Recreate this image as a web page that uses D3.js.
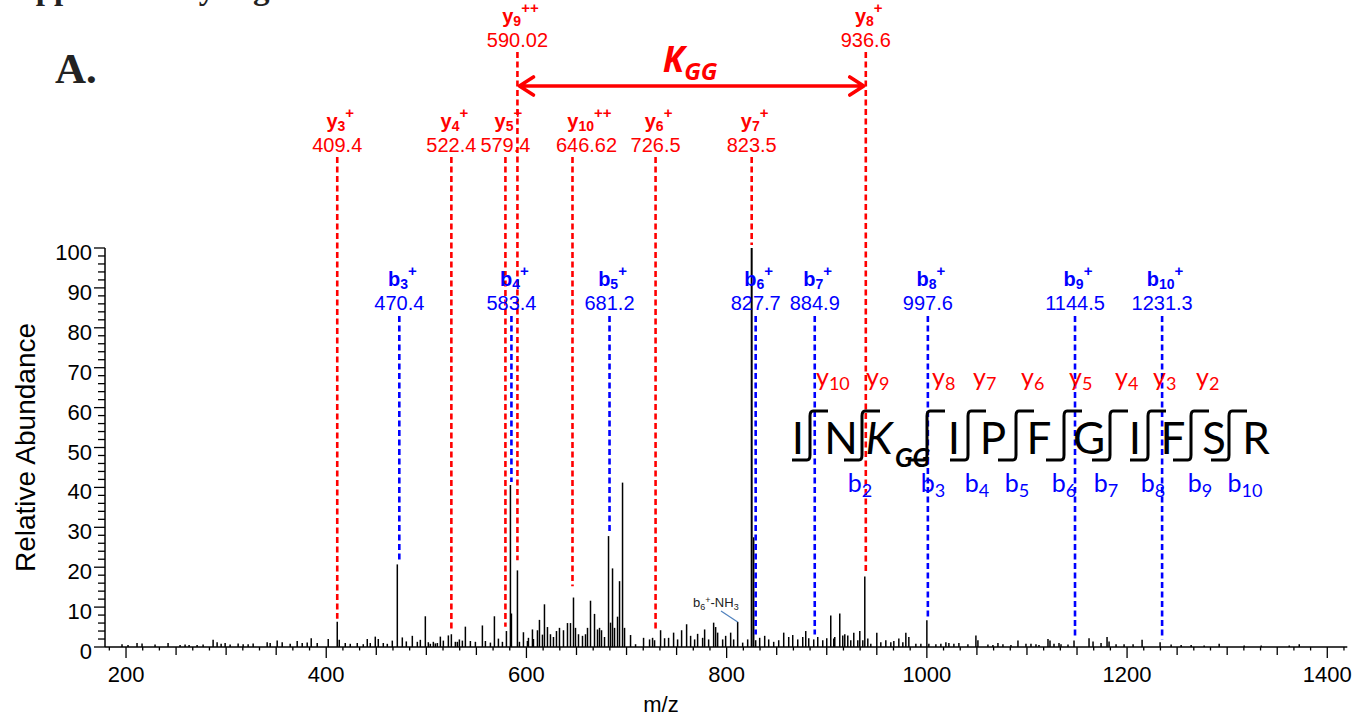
<!DOCTYPE html>
<html>
<head>
<meta charset="utf-8">
<script src="https://cdn.jsdelivr.net/npm/d3@7"></script>
<style>
  body { margin: 0; background: #fff; }
  svg text { font-family: "Liberation Sans", Arial, sans-serif; }
</style>
</head>
<body>
<svg id="chart" width="1361" height="719"></svg>
<script>
// ---- data: [m/z, relative abundance %] ----
const spectrum = [
  [196,0.7],[202,0.5],[211,1.0],[216,0.9],[229,0.6],[242,1.0],[254,0.5],[259,0.6],[263,0.5],[271,0.5],
  [277,0.6],[287,1.8],[291,1.2],[295,0.8],[299,1.0],[304,0.6],[312,0.9],[317,0.7],[322,0.7],[327,0.9],
  [341,1.2],[344,1.0],[351,1.6],[356,1.2],[364,0.8],[371,1.5],[376,1.0],[381,1.1],[385,2.2],[391,1.0],
  [402,2.0],[411,6.3],[413,1.8],[419,1.0],[424,0.8],[431,1.0],[437,0.7],[441,2.0],[444,1.0],[449,2.6],
  [452,2.0],[457,1.0],[461,0.8],[466,1.6],[471,20.7],[476,2.4],[480,1.4],[486,2.8],[491,1.3],[494,1.8],
  [499,7.7],[502,1.2],[504,0.8],[507,1.3],[509,0.9],[511,1.0],[514,2.6],[517,1.6],[522,2.9],[525,3.2],
  [529,1.3],[531,1.3],[533,1.9],[536,1.6],[539,5.1],[544,1.5],[549,1.3],[556,5.4],[559,1.5],[564,1.1],
  [568,7.7],[572,2.1],[576,1.3],[580,4.0],[584,40.6],[585,8.4],[591,19.2],[593,1.3],[597,3.7],[601,1.5],
  [602,2.3],[606,4.4],[607,2.0],[611,4.2],[613,6.8],[616,3.1],[618,10.7],[621,5.0],[624,3.2],[627,2.5],
  [630,4.0],[633,4.8],[637,4.2],[641,6.0],[644,6.0],[647,12.4],[649,4.8],[652,3.2],[656,2.8],[659,3.2],
  [661,4.8],[664,11.6],[668,8.3],[671,4.4],[673,4.8],[675,4.2],[678,2.5],[682,27.8],[684,6.1],[686,19.7],
  [688,4.8],[691,7.6],[693,16.5],[696,41.2],[698,4.8],[704,3.0],[709,0.7],[717,2.3],[723,1.9],[726,2.3],
  [728,1.7],[734,4.2],[738,2.2],[742,2.3],[747,3.6],[751,1.9],[755,4.2],[760,5.7],[764,2.8],[768,1.9],
  [771,3.3],[776,2.3],[778,4.4],[782,1.9],[787,6.1],[789,5.0],[791,3.6],[796,1.9],[799,2.8],[804,3.6],
  [807,1.9],[811,6.3],[816,1.1],[821,1.9],[825,100],[827,27.5],[829,1.7],[833,2.3],[838,2.8],[842,1.9],
  [847,1.3],[852,1.7],[857,3.6],[862,2.5],[866,3.0],[871,1.9],[876,2.5],[879,4.0],[882,2.2],[887,1.9],
  [891,2.5],[896,1.7],[900,2.2],[904,7.9],[907,2.1],[908,2.5],[913,8.4],[916,2.9],[918,3.2],[921,2.9],
  [924,1.7],[927,3.6],[931,1.7],[933,4.0],[936,1.7],[938,17.7],[941,2.1],[944,0.8],[950,3.6],[954,1.2],
  [959,1.7],[964,1.2],[967,1.5],[972,2.1],[976,1.2],[979,3.6],[982,2.5],[989,0.8],[994,0.8],[1000,6.7],
  [1002,0.8],[1009,0.7],[1014,0.8],[1019,1.2],[1022,1.0],[1027,0.8],[1032,1.0],[1041,0.7],[1049,2.9],[1051,1.7],
  [1061,0.6],[1066,0.5],[1071,1.0],[1076,0.7],[1084,0.5],[1091,1.6],[1099,0.8],[1104,0.8],[1109,0.7],[1112,0.5],
  [1121,2.0],[1123,1.6],[1127,0.8],[1132,1.0],[1134,0.7],[1141,0.6],[1147,1.6],[1162,2.2],[1166,1.4],[1174,1.0],
  [1180,2.5],[1182,1.4],[1189,0.7],[1197,0.7],[1206,0.7],[1215,1.8],[1233,1.2],[1244,0.6],[1254,0.5],[1264,0.5],
  [1277,0.4],[1292,0.8],[1317,0.4],[1334,0.4],[1362,0.4],[1372,0.7]
];

// annotated fragment ions: label text, m/z of the marked peak, its height, label tier
const yIons = [
  { n: "3",  z: "+",  label: "409.4",  mz: 411, rel: 6.3,  tier: 1 },
  { n: "4",  z: "+",  label: "522.4",  mz: 525, rel: 3.0,  tier: 1 },
  { n: "5",  z: "+",  label: "579.4",  mz: 579, rel: 4.3,  tier: 1 },
  { n: "9",  z: "++", label: "590.02", mz: 591, rel: 21,   tier: 0 },
  { n: "10", z: "++", label: "646.62", mz: 646, rel: 14.5, tier: 1 },
  { n: "6",  z: "+",  label: "726.5",  mz: 729, rel: 3.0,  tier: 1 },
  { n: "7",  z: "+",  label: "823.5",  mz: 825, rel: 100,  tier: 1 },
  { n: "8",  z: "+",  label: "936.6",  mz: 939, rel: 17.7, tier: 0 }
];
const bIons = [
  { n: "3",  z: "+", label: "470.4",  mz: 473,  rel: 20.7 },
  { n: "4",  z: "+", label: "583.4",  mz: 585,  rel: 40.6 },
  { n: "5",  z: "+", label: "681.2",  mz: 683,  rel: 27.8 },
  { n: "6",  z: "+", label: "827.7",  mz: 829,  rel: 2.4 },
  { n: "7",  z: "+", label: "884.9",  mz: 888,  rel: 2.4 },
  { n: "8",  z: "+", label: "997.6",  mz: 1001, rel: 6.7 },
  { n: "9",  z: "+", label: "1144.5", mz: 1148, rel: 1.6 },
  { n: "10", z: "+", label: "1231.3", mz: 1235, rel: 1.2 }
];

// peptide I N K(GG) I P F G I F S R
const residues = ["I", "N", "K", "I", "P", "F", "G", "I", "F", "S", "R"];
const yFragLabels = ["10", "9", "8", "7", "6", "5", "4", "3", "2"];
const bFragLabels = ["2", "3", "4", "5", "6", "7", "8", "9", "10"];

const xTickLabels = [200, 400, 600, 800, 1000, 1200, 1400];
const yTickLabels = [0, 10, 20, 30, 40, 50, 60, 70, 80, 90, 100];

// ---- layout ----
const RED = "#ff0000", BLUE = "#0000ff";
const svg = d3.select("#chart");

const x = d3.scaleLinear().domain([179, 1420]).range([105, 1347.3]);
const y = d3.scaleLinear().domain([0, 100]).range([647, 248]);

// cropped header line at the very top and panel letter
svg.append("text").attr("x", -1).attr("y", -1)
  .style("font-family", "'Liberation Serif', 'Times New Roman', serif")
  .attr("font-weight", "bold").attr("font-size", 33).attr("fill", "#222")
  .text("Supplementary Figure");
svg.append("text").attr("x", 55).attr("y", 83)
  .style("font-family", "'Liberation Serif', 'Times New Roman', serif")
  .attr("font-weight", "bold").attr("font-size", 43).attr("fill", "#222")
  .text("A.");

// ---- axes ----
const xMinor = d3.range(0, 75).map(k => 200 + (k - 1) * 50 / 3)
  .filter(v => v >= 180 && v <= 1420);
const xAxisG = svg.append("g").attr("transform", `translate(0,${y(0)})`);
xAxisG.append("line").attr("x1", 105).attr("x2", 1347.3).attr("stroke", "#000").attr("stroke-width", 1.5);
xAxisG.selectAll("line.tk").data(xMinor).join("line").attr("class", "tk")
  .attr("x1", d => x(d)).attr("x2", d => x(d)).attr("y1", 0)
  .attr("y2", d => {
    const k = Math.round((d - 200) * 3 / 50);
    return k % 12 === 0 ? 11 : (k % 3 === 0 ? 8 : 3.5);
  })
  .attr("stroke", "#000").attr("stroke-width", 1.3);
xAxisG.selectAll("text").data(xTickLabels).join("text")
  .attr("x", d => x(d)).attr("y", 35).attr("text-anchor", "middle")
  .attr("font-size", 22).attr("fill", "#000").text(d => d);

const yAxisG = svg.append("g").attr("transform", `translate(105,0)`);
yAxisG.append("line").attr("y1", y(0)).attr("y2", y(100)).attr("stroke", "#000").attr("stroke-width", 1.5);
yAxisG.selectAll("line.tk").data(d3.range(0, 101, 2)).join("line").attr("class", "tk")
  .attr("y1", d => y(d)).attr("y2", d => y(d)).attr("x1", 0)
  .attr("x2", d => d % 10 === 0 ? -11 : -7)
  .attr("stroke", "#000").attr("stroke-width", 1.3);
yAxisG.selectAll("text").data(yTickLabels).join("text")
  .attr("x", -13).attr("y", d => y(d) + 12).attr("text-anchor", "end")
  .attr("font-size", 22).attr("fill", "#000").text(d => d);

svg.append("text").attr("transform", `translate(35,${y(50)}) rotate(-90)`)
  .attr("text-anchor", "middle").attr("font-size", 28).attr("fill", "#000")
  .text("Relative Abundance");
svg.append("text").attr("x", 661).attr("y", 712).attr("text-anchor", "middle")
  .attr("font-size", 22).attr("fill", "#000").text("m/z");

// ---- spectrum sticks ----
svg.append("g").selectAll("line").data(spectrum).join("line")
  .attr("x1", d => x(d[0])).attr("x2", d => x(d[0]))
  .attr("y1", y(0)).attr("y2", d => y(d[1]))
  .attr("stroke", "#000").attr("stroke-width", d => d[1] > 50 ? 2 : 1.5);

// ---- ion annotations ----
function ionLabel(g, cx, base, ion, n, z, color) {
  const t = g.append("text").attr("x", cx).attr("y", base).attr("text-anchor", "middle")
    .attr("fill", color).attr("font-weight", "bold").attr("font-size", 20);
  t.append("tspan").text(ion);
  t.append("tspan").attr("font-size", 14).attr("dy", 3).text(n);
  t.append("tspan").attr("font-size", 15).attr("dy", -13).text(z);
}
const tierName = [23, 128, 286];
const tierNum = [47, 152, 310];
const tierTop = [52, 157, 316];
const labelNudge = { "10": 14 };

const annG = svg.append("g");
yIons.forEach(d => {
  const cx = x(d.mz) + (labelNudge[d.n] || 0);
  annG.append("line").attr("x1", x(d.mz)).attr("x2", x(d.mz))
    .attr("y1", tierTop[d.tier]).attr("y2", y(d.rel) - 3)
    .attr("stroke", RED).attr("stroke-width", 2.6).attr("stroke-dasharray", "6,3.5");
  ionLabel(annG, cx + 3, tierName[d.tier], "y", d.n, d.z, RED);
  annG.append("text").attr("x", cx).attr("y", tierNum[d.tier]).attr("text-anchor", "middle")
    .attr("fill", RED).attr("font-size", 20).text(d.label);
});
bIons.forEach(d => {
  const cx = x(d.mz);
  annG.append("line").attr("x1", cx).attr("x2", cx)
    .attr("y1", tierTop[2]).attr("y2", y(d.rel) - 3)
    .attr("stroke", BLUE).attr("stroke-width", 2.6).attr("stroke-dasharray", "6,3.5");
  ionLabel(annG, cx + 3, tierName[2], "b", d.n, d.z, BLUE);
  annG.append("text").attr("x", cx).attr("y", tierNum[2]).attr("text-anchor", "middle")
    .attr("fill", BLUE).attr("font-size", 20).text(d.label);
});

// K(GG) mass shift arrow between y9++ and y8+
const yA = 86, xa = x(yIons[3].mz), xb = x(yIons[7].mz);
const arrow = d3.path();
arrow.moveTo(xa + 2, yA); arrow.lineTo(xb - 2, yA);
arrow.moveTo(xa + 16, yA - 9); arrow.lineTo(xa + 2, yA); arrow.lineTo(xa + 16, yA + 9);
arrow.moveTo(xb - 16, yA - 9); arrow.lineTo(xb - 2, yA); arrow.lineTo(xb - 16, yA + 9);
svg.append("path").attr("d", arrow.toString()).attr("fill", "none")
  .attr("stroke", RED).attr("stroke-width", 3.6).attr("stroke-linecap", "round").attr("stroke-linejoin", "round");
const kgg = svg.append("text").attr("x", 690).attr("y", 72).attr("text-anchor", "middle")
  .attr("fill", RED).attr("font-weight", "bold").attr("font-style", "italic")
  .style("font-family", "'Open Sans', 'Liberation Sans', sans-serif");
kgg.append("tspan").attr("font-size", 35).text("K");
kgg.append("tspan").attr("font-size", 24).attr("dy", 8).text("GG");

// b6+-NH3 note
const note = svg.append("text").attr("x", 693).attr("y", 607).attr("font-size", 13).attr("fill", "#222");
note.append("tspan").text("b");
note.append("tspan").attr("font-size", 9).attr("dy", 3).text("6");
note.append("tspan").attr("font-size", 9).attr("dy", -7).text("+");
note.append("tspan").attr("dy", 4).text("-NH");
note.append("tspan").attr("font-size", 9).attr("dy", 3).text("3");
svg.append("line").attr("x1", 721).attr("y1", 611).attr("x2", x(811)).attr("y2", 622)
  .attr("stroke", "#4f81bd").attr("stroke-width", 1.2);

// ---- peptide fragmentation map ----
const resX = [798, 841, 879, 954, 993, 1039, 1089, 1135, 1173, 1214, 1256];
const brX = [810, 862, 927, 968, 1016, 1064, 1110, 1148, 1191, 1229];
const yLabX = [816, 866, 932, 973, 1021, 1069, 1115, 1153, 1196];
const bLabX = [860, 933, 977, 1017, 1064, 1106, 1153, 1200, 1245];
const pep = svg.append("g");
residues.forEach((r, i) => {
  const t = pep.append("text").attr("x", resX[i]).attr("y", 454).attr("text-anchor", "middle")
    .attr("font-size", 44).attr("fill", "#000").style("font-family", "Lato, 'Open Sans', sans-serif");
  if (i === 2) {
    t.attr("font-style", "italic").text(r);
    pep.append("text").attr("x", 895).attr("y", 467).attr("font-size", 26)
      .attr("font-style", "italic").attr("font-weight", "bold").attr("fill", "#000")
      .style("font-family", "Lato, 'Open Sans', sans-serif").text("GG");
  } else t.text(r);
});
// fragmentation brackets, vertical stroke slightly curved like the original
brX.forEach(bx => {
  pep.append("path")
    .attr("d", `M${bx - 18},460 L${bx - 3},460 Q${bx},460 ${bx},455 L${bx},416 Q${bx},411 ${bx + 3},411 L${bx + 18},411`)
    .attr("fill", "none").attr("stroke", "#000").attr("stroke-width", 3);
});
yFragLabels.forEach((n, i) => {
  const t = pep.append("text").attr("x", yLabX[i]).attr("y", 386).attr("fill", RED)
    .attr("font-size", 25).style("font-family", "Lato, 'Open Sans', sans-serif");
  t.append("tspan").text("y");
  t.append("tspan").attr("font-size", 18).attr("dy", 4).text(n);
});
bFragLabels.forEach((n, i) => {
  const t = pep.append("text").attr("x", bLabX[i]).attr("y", 492).attr("fill", BLUE)
    .attr("text-anchor", "middle").attr("font-size", 25).style("font-family", "Lato, 'Open Sans', sans-serif");
  t.append("tspan").text("b");
  t.append("tspan").attr("font-size", 18).attr("dy", 5).text(n);
});
</script>
</body>
</html>
